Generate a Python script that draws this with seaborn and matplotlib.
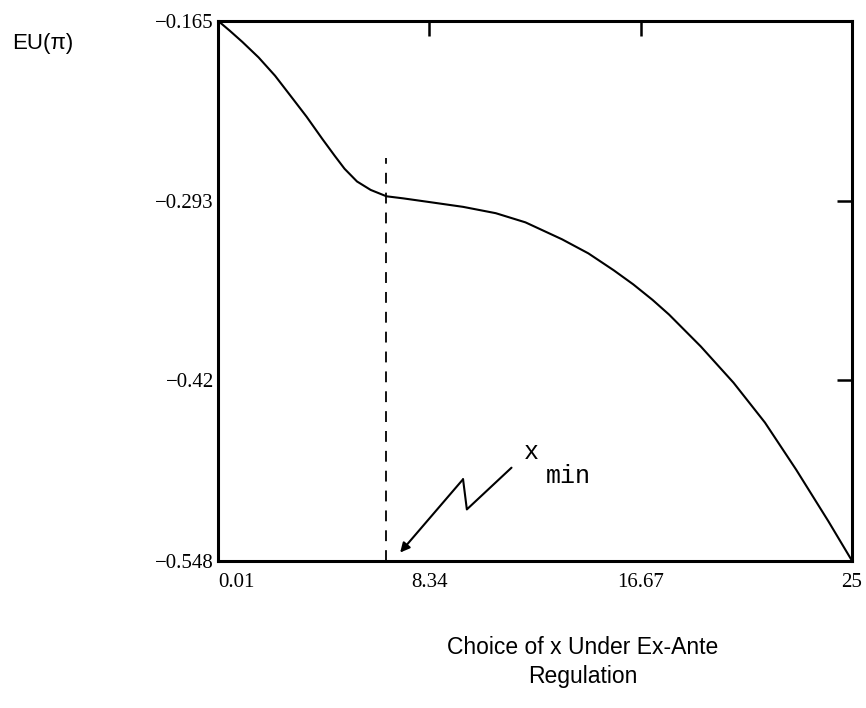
import numpy as np
import pandas as pd
import seaborn as sns
import matplotlib.pyplot as plt

# values
x_choice = [0.01, 0.47, 0.97, 1.61, 2.26, 2.86, 3.50, 4.13, 4.62, 5.00,
            5.49, 6.03, 6.65, 7.32, 8.50, 9.67, 10.96, 12.13, 13.57, 14.61,
            15.61, 16.38, 17.14, 17.79, 19.04, 20.33, 21.57, 22.80, 24.07, 25.0]
eu_pi = [-0.165, -0.172, -0.180, -0.191, -0.204, -0.218, -0.233, -0.249,
         -0.261, -0.270, -0.279, -0.285, -0.2895, -0.291, -0.294, -0.297,
         -0.3015, -0.308, -0.320, -0.330, -0.342, -0.352, -0.363, -0.3734,
         -0.396, -0.4217, -0.450, -0.4834, -0.520, -0.548]

x_ticks = [0.01, 8.34, 16.67, 25]
x_tick_labels = ["0.01", "8.34", "16.67", "25"]
y_ticks = [-0.548, -0.42, -0.293, -0.165]
y_tick_labels = ["\u22120.548", "\u22120.42", "\u22120.293", "\u22120.165"]

x_min = 6.65
x_min_top = -0.262

# zigzag pointer to x_min
zig_x = [11.58, 9.82, 9.67, 7.19]
zig_y = [-0.482, -0.5116, -0.4902, -0.5422]

df = pd.DataFrame({"x": x_choice, "eu": eu_pi})

sns.set_style("white")
plt.rcParams['font.family'] = ['Liberation Sans', 'DejaVu Sans']
plt.rcParams['text.color'] = 'black'
plt.rcParams['xtick.color'] = 'black'
plt.rcParams['ytick.color'] = 'black'

fig = plt.figure(figsize=(8.66, 7.08), dpi=100)
ax = fig.add_axes([0.2517, 0.208, 0.7321, 0.7627])

sns.lineplot(data=df, x="x", y="eu", ax=ax, color="black", linewidth=1.5)

# dashed marker at x_min
ax.plot([x_min, x_min], [-0.548, x_min_top], color="black", linewidth=1.3,
        linestyle=(0, (6, 5)))

# zigzag arrow + label
ax.plot(zig_x[:-1], zig_y[:-1], color="black", linewidth=1.5)
ax.annotate("", xy=(zig_x[-1], zig_y[-1]), xytext=(zig_x[-2], zig_y[-2]),
            arrowprops=dict(arrowstyle="-|>", color="black", lw=1.5,
                            mutation_scale=14, shrinkA=0, shrinkB=0))
ax.text(12.05, -0.4794, "x", family="Liberation Mono", fontsize=18,
        ha="left", va="bottom")
ax.text(12.95, -0.4794, "min", family="Liberation Mono", fontsize=18,
        ha="left", va="top")

ax.set_xlim(0.01, 25)
ax.set_ylim(-0.548, -0.165)
ax.set_xticks(x_ticks)
ax.set_xticklabels(x_tick_labels, family="Liberation Serif", fontsize=15)
ax.set_yticks(y_ticks)
ax.set_yticklabels(y_tick_labels, family="Liberation Serif", fontsize=15)
ax.get_xticklabels()[0].set_ha("left")
ax.tick_params(direction="in", length=11, width=1.8, top=True, right=True,
               color="black")
ax.tick_params(axis="x", pad=9)
ax.tick_params(axis="y", pad=3)
ax.set_xlabel("")
ax.set_ylabel("")
for side in ["left", "right", "top", "bottom"]:
    ax.spines[side].set_visible(True)
    ax.spines[side].set_color("black")
    ax.spines[side].set_linewidth(2.2)

fig.text(12 / 866, 1 - 43 / 708, "EU(\u03c0)", fontsize=16, ha="left", va="center")
fig.text(583 / 866, 0.065, "Choice of x Under Ex-Ante\nRegulation", fontsize=16.5,
         ha="center", va="center", linespacing=1.35)

fig.savefig("out.png", dpi=100, facecolor="white")
